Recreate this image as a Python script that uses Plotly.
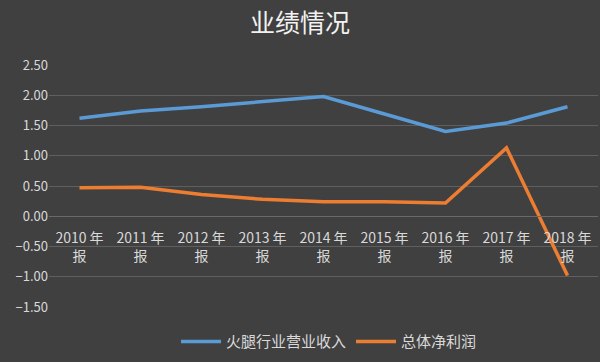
import plotly.graph_objects as go

categories = ["2010 年<br>报", "2011 年<br>报", "2012 年<br>报", "2013 年<br>报", "2014 年<br>报",
              "2015 年<br>报", "2016 年<br>报", "2017 年<br>报", "2018 年<br>报"]
revenue = [1.62, 1.74, 1.81, 1.90, 1.98, 1.69, 1.40, 1.54, 1.81]
profit = [0.47, 0.48, 0.36, 0.28, 0.24, 0.24, 0.22, 1.13, -0.98]
y_ticks = [-1.5, -1.0, -0.5, 0.0, 0.5, 1.0, 1.5, 2.0, 2.5]

font_cjk = "Noto Sans CJK SC, Noto Sans, sans-serif"
ymin, ymax = -1.5, 2.5

fig = go.Figure()
fig.add_trace(go.Scatter(x=categories, y=revenue, mode="lines", name="火腿行业营业收入",
                         line=dict(color="#5b9bd5", width=3.5)))
fig.add_trace(go.Scatter(x=categories, y=profit, mode="lines", name="总体净利润",
                         line=dict(color="#ed7d31", width=3.5)))

fig.update_layout(
    width=600, height=362,
    paper_bgcolor="#404040", plot_bgcolor="#404040",
    margin=dict(l=49, r=2, t=65, b=55),
    title=dict(text="业绩情况", x=0.5, xanchor="center", y=0.935, yanchor="middle",
               font=dict(family=font_cjk, size=25, color="#f2f2f2")),
    font=dict(family=font_cjk, color="#d9d9d9"),
    showlegend=True,
    legend=dict(orientation="h", x=0.51, xanchor="center", y=-0.075, yanchor="top",
                font=dict(size=15, color="#d9d9d9"), bgcolor="rgba(0,0,0,0)",
                itemwidth=40),
    xaxis=dict(type="category", anchor="free", position=(0 - ymin) / (ymax - ymin),
               showgrid=False, showline=True, linecolor="#6a6a6a", linewidth=1,
               ticks="", ticklabelstandoff=9, automargin=False,
               tickfont=dict(size=14, color="#d9d9d9"), range=[-0.5, 8.5]),
    yaxis=dict(range=[ymin, ymax], tickvals=y_ticks, tickformat=".2f", automargin=False,
               showgrid=True, gridcolor="#5f5f5f", gridwidth=1, zeroline=False,
               tickfont=dict(size=13, color="#d9d9d9"), ticks="", showline=False),
)

fig.write_html("out.html", config={"displayModeBar": False},
               post_script="document.body.style.margin='0';")
